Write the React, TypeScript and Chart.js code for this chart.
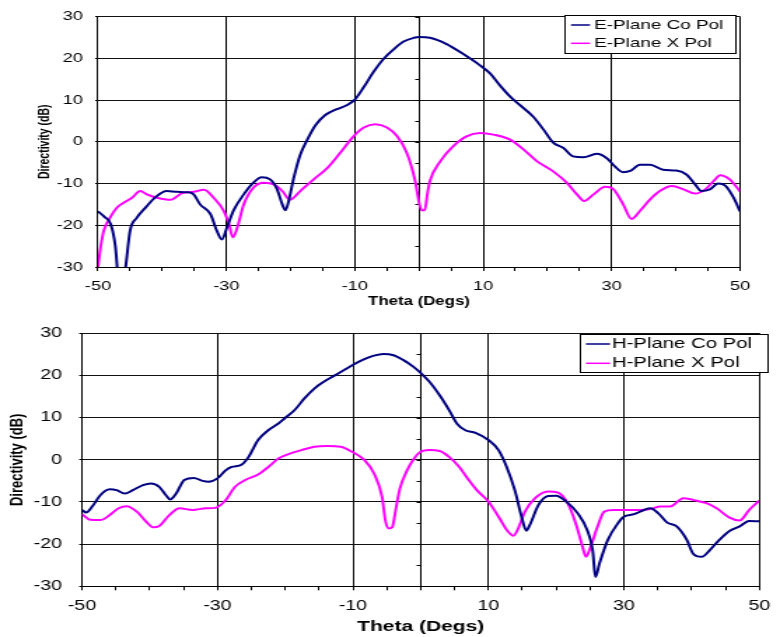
import React, { useEffect, useRef } from 'react';
import { Chart, registerables } from 'chart.js';

Chart.register(...registerables);

// ---------------- data ----------------
const eCoTheta = [-50, -49, -48, -47.3, -46.5, -45.7, -45, -44, -42.5, -41, -39.3, -37.7, -36.1, -35.1, -34.1, -32.5, -31.5, -30.7, -29.9, -28.9, -27.3, -25.8, -24.5, -23.2, -22.1, -21.3, -20.8, -20.3, -19.5, -18.5, -17.4, -16.1, -14.6, -12.8, -11.2, -10, -8.6, -7.1, -5.5, -3.9, -2.4, -0.8, 0, 1.7, 4.3, 6.9, 9.5, 11.1, 12.6, 14.2, 15.7, 17.8, 19.4, 20.9, 22.5, 24, 25.6, 27.7, 29.2, 30.5, 31.8, 32.9, 34.4, 36, 38, 40.1, 41.7, 43, 44, 45.3, 46.6, 47.7, 49, 50];
const eCoDir = [-16.7, -18, -19.8, -25, -38, -30, -21.3, -18.3, -15.6, -13.2, -11.8, -12, -12.1, -12.6, -15, -17.3, -21.3, -23.4, -20.5, -16.5, -12.6, -9.8, -8.5, -9, -11.4, -15, -16.4, -14.2, -8.6, -3.1, 0.5, 4, 6.4, 7.8, 8.8, 10.1, 13.1, 16.7, 19.9, 22.2, 24, 24.9, 25.1, 24.9, 23.4, 21, 18.3, 16.3, 13.5, 10.8, 8.8, 6, 2.9, -0.2, -1.5, -3.5, -3.7, -2.9, -3.9, -5.9, -7.3, -7, -5.5, -5.5, -6.7, -6.9, -7.9, -10.2, -11.8, -11.4, -10, -10.5, -13.4, -16.7];

const eXTheta = [-50, -49.6, -49.1, -48.1, -47, -46, -44.7, -43.4, -42.4, -40.8, -38.7, -36.9, -35.1, -33.5, -32, -30.4, -29.6, -29, -28.3, -27.3, -25.8, -24.2, -22.6, -21.3, -20.1, -18.5, -16.4, -14.3, -12.3, -10.2, -8.6, -6.8, -5, -3.4, -1.9, -0.6, 0, 0.4, 0.9, 1.3, 1.7, 3.3, 5.3, 7.4, 9.5, 11.6, 14.2, 16.3, 18.4, 20.9, 23, 24.6, 25.7, 27.2, 29, 30.3, 31.8, 33.1, 34.4, 36, 37.5, 39.4, 41.2, 43, 44.6, 45.9, 46.9, 48.4, 50];
const eXDir = [-30, -25.3, -21.3, -18.1, -15.7, -14.6, -13.4, -11.8, -12.6, -13.4, -13.9, -12.3, -12, -11.5, -13.4, -16.6, -19.7, -22.9, -20.5, -15, -11, -9.8, -10.2, -11.8, -13.9, -11.8, -9, -6.3, -2.7, 1.3, 3.4, 4.2, 3.4, 1.3, -2.7, -9.4, -14.5, -16.4, -16.4, -12.5, -9.4, -4.7, -1.1, 1.3, 2.1, 1.7, 0.5, -1.9, -4.7, -7.1, -9.8, -12.6, -14.2, -12.6, -10.8, -11.4, -15, -18.5, -16.6, -13.8, -11.8, -10.6, -11.4, -12.4, -11.4, -9.4, -8, -9, -11.9];

const hCoTheta = [-50, -49.4, -48.5, -47.3, -45.9, -44.9, -43.7, -42.5, -41, -39.8, -38.6, -37.6, -37, -36.1, -34.9, -33.5, -32.2, -31.3, -30, -28.8, -27.9, -26.4, -25.4, -24, -22.5, -21, -20.1, -18.6, -17.2, -15.7, -14.3, -12.8, -11.3, -9.9, -8.4, -6.9, -5.5, -4, -2.6, -1.1, 0, 1.3, 2.8, 4.2, 5.4, 6.6, 8.1, 10, 11.5, 12.7, 13.9, 14.9, 15.6, 16.1, 17.4, 18.8, 20, 21.5, 23.2, 24.6, 25.4, 25.8, 26.4, 27.6, 29.1, 30, 31.5, 33, 33.9, 35.1, 36.4, 37.8, 39.3, 40.2, 41.5, 42.7, 44.1, 45.6, 47.1, 48.5, 50];
const hCoDir = [-11.9, -12.5, -11.1, -8.4, -7, -7.2, -8, -7.2, -6, -5.6, -6.4, -8.4, -9.4, -8, -4.8, -4.3, -5, -5.2, -4.4, -2.5, -1.7, -1.1, 0.7, 4.7, 7, 8.6, 9.8, 11.8, 14.5, 16.9, 18.5, 19.9, 21.3, 22.6, 23.8, 24.7, 25.1, 24.8, 23.7, 22.1, 20.6, 18.5, 15.3, 11.8, 8.5, 7, 6.4, 4.7, 2.3, -1.7, -7.2, -13.5, -16.8, -15.5, -10.7, -8.6, -8.5, -9.9, -12.7, -16.7, -21.5, -27.8, -24.6, -19.1, -15.1, -13.5, -12.9, -11.9, -11.5, -12.7, -14.9, -15.8, -19, -22.2, -23, -21.4, -19, -16.9, -15.8, -14.5, -14.6];

const hXTheta = [-50, -48.8, -47.3, -45.9, -44.6, -43.4, -41.9, -40.5, -39.5, -38.6, -37.1, -35.6, -33.7, -31.7, -30.3, -28.8, -27.4, -25.9, -24, -22.5, -21, -19.6, -17.6, -15.7, -13.8, -11.8, -9.9, -8.4, -6.9, -5.7, -5.2, -4.7, -4.2, -3.7, -3.1, -2.1, -1.1, -0.2, 1.3, 2.8, 4.2, 5.7, 7.1, 8.3, 10, 11.5, 12.9, 13.7, 14.4, 15.4, 16.9, 18.8, 20.3, 21.7, 22.9, 23.9, 24.4, 25.1, 26.1, 27.1, 28.5, 30.5, 32.4, 33.9, 35.4, 36.8, 38.8, 40.2, 42.2, 43.7, 45.6, 47.1, 48.5, 50];
const hXDir = [-12.9, -14.2, -14.3, -13.1, -11.5, -11, -12.3, -14.7, -16, -15.7, -13.1, -11.5, -11.9, -11.5, -11.4, -9.6, -6.4, -4.8, -3.5, -1.7, 0.3, 1.3, 2.3, 3.1, 3.3, 3.1, 1.7, 0.1, -3.2, -8.8, -14.5, -16.3, -16, -12, -7, -2.8, 0, 1.7, 2.3, 2.1, 0.7, -1.7, -4.8, -7.2, -9.9, -13.5, -17, -18, -16.3, -12.3, -9.1, -7.5, -7.8, -10.3, -15.1, -20.6, -23, -20.6, -15.9, -12.3, -11.9, -11.9, -11.9, -11.7, -11.1, -11.1, -9.1, -9.5, -10.3, -11.5, -13.7, -14.4, -11.9, -9.7];

const xLabelValues = [-50, -30, -10, 10, 30, 50];
const topLabels = ['E-Plane Co Pol', 'E-Plane X Pol'];
const bottomLabels = ['H-Plane Co Pol', 'H-Plane X Pol'];
const xTitle = 'Theta (Degs)';
const yTitle = 'Directivity (dB)';

const CO_COLOR = '#000080';
const X_COLOR = '#FF00FF';

// ---------------- layout helpers ----------------
const BUF_W = 557;
const CSS_W = 780;
const SX = CSS_W / BUF_W; // horizontal stretch
const b = (cssX: number) => cssX / SX;
const FONT = '"Liberation Sans", Arial, Helvetica, sans-serif';

const toPoints = (xs: number[], ys: number[]) => xs.map((x, i) => ({ x, y: ys[i] }));

const midAxisPlugin = {
  id: 'midAxis',
  beforeDatasetsDraw(chart: any) {
    const { ctx, chartArea, scales } = chart;
    const x0 = Math.round(scales.x.getPixelForValue(0)) + 0.5;
    ctx.save();
    ctx.strokeStyle = '#000';
    ctx.lineWidth = 1;
    ctx.beginPath();
    ctx.moveTo(x0, chartArea.top);
    ctx.lineTo(x0, chartArea.bottom);
    for (let v = scales.y.min; v <= scales.y.max; v += 5) {
      const y = Math.round(scales.y.getPixelForValue(v)) + 0.5;
      ctx.moveTo(x0 - 3, y);
      ctx.lineTo(x0, y);
    }
    ctx.stroke();
    ctx.restore();
  },
};

const legendBoxPlugin = {
  id: 'legendBox',
  afterDatasetsDraw(chart: any, _args: any, o: any) {
    const ctx = chart.ctx;
    ctx.save();
    ctx.fillStyle = '#fff';
    ctx.fillRect(o.left, o.top, o.right - o.left, o.bottom - o.top);
    ctx.strokeStyle = '#000';
    ctx.lineWidth = 1;
    ctx.strokeRect(Math.round(o.left) + 0.5, Math.round(o.top) + 0.5, Math.round(o.right - o.left), Math.round(o.bottom - o.top));
    ctx.font = `${o.fontSize}px ${FONT}`;
    ctx.textBaseline = 'middle';
    ctx.textAlign = 'left';
    chart.data.datasets.forEach((ds: any, i: number) => {
      const y = o.rows[i];
      ctx.strokeStyle = ds.borderColor;
      ctx.lineWidth = 1.5;
      ctx.beginPath();
      ctx.moveTo(o.lineX0, y);
      ctx.lineTo(o.lineX1, y);
      ctx.stroke();
      ctx.fillStyle = '#000';
      ctx.fillText(ds.label, o.textX, y);
    });
    ctx.restore();
  },
};

interface Spec {
  height: number;
  plotTop: number;
  plotBottom: number;
  plotLeftCss: number;
  plotRightCss: number;
  tickFont: number;
  yTickPad: number;
  xTickPad: number;
  yTitleFont: number;
  yTitlePad: number;
  xTitleFont: number;
  xTitlePad: number;
  labels: string[];
  co: { x: number; y: number }[];
  xp: { x: number; y: number }[];
  legend: any;
}

function buildConfig(s: Spec): any {
  return {
    type: 'line',
    data: {
      datasets: [
        { label: s.labels[0], data: s.co, borderColor: CO_COLOR, borderWidth: 2, pointRadius: 0, cubicInterpolationMode: 'monotone', fill: false },
        { label: s.labels[1], data: s.xp, borderColor: X_COLOR, borderWidth: 2, pointRadius: 0, cubicInterpolationMode: 'monotone', fill: false },
      ],
    },
    options: {
      animation: false,
      responsive: false,
      devicePixelRatio: 1,
      events: [],
      layout: {
        padding: { left: 0, top: s.plotTop, right: BUF_W - b(s.plotRightCss), bottom: 0 },
      },
      scales: {
        x: {
          type: 'linear',
          min: -50,
          max: 50,
          afterFit: (sc: any) => { sc.height = s.height - s.plotBottom; },
          ticks: {
            stepSize: 5,
            autoSkip: false,
            maxRotation: 0,
            color: '#000',
            padding: s.xTickPad,
            font: { family: FONT, size: s.tickFont },
            callback: (v: number) => (xLabelValues.includes(v) ? String(v) : ''),
          },
          grid: {
            color: (c: any) => (c.tick && xLabelValues.includes(c.tick.value) ? '#000' : 'rgba(0,0,0,0)'),
            tickColor: '#000',
            tickLength: 4,
            lineWidth: 1,
          },
          border: { display: true, color: '#000' },
          title: {
            display: true,
            text: xTitle,
            color: '#000',
            font: { family: FONT, size: s.xTitleFont, weight: 'bold' },
            padding: { top: 0, bottom: s.xTitlePad },
          },
        },
        y: {
          min: -30,
          max: 30,
          afterFit: (sc: any) => { sc.width = b(s.plotLeftCss); },
          ticks: {
            stepSize: 10,
            color: '#000',
            padding: s.yTickPad,
            font: { family: FONT, size: s.tickFont },
          },
          grid: { color: '#111', tickColor: '#000', tickLength: 2, lineWidth: 1 },
          border: { display: true, color: '#000' },
          title: {
            display: true,
            text: yTitle,
            color: '#000',
            font: { family: FONT, size: s.yTitleFont, weight: 'bold' },
            padding: { top: s.yTitlePad, bottom: 0 },
          },
        },
      },
      plugins: {
        legend: { display: false },
        tooltip: { enabled: false },
        legendBox: s.legend,
      },
    },
    plugins: [midAxisPlugin, legendBoxPlugin],
  };
}

const topSpec: Spec = {
  height: 310,
  plotTop: 14,
  plotBottom: 267,
  plotLeftCss: 98,
  plotRightCss: 740,
  tickFont: 13,
  yTickPad: 8.7,
  xTickPad: 7.4,
  yTitleFont: 10.5,
  yTitlePad: b(45.5) - 6.3,
  xTitleFont: 12,
  xTitlePad: 0.8,
  labels: topLabels,
  co: toPoints(eCoTheta, eCoDir),
  xp: toPoints(eXTheta, eXDir),
  legend: {
    left: b(565), right: b(736), top: 15, bottom: 53,
    lineX0: b(571), lineX1: b(590), textX: b(594),
    rows: [25, 43.3], fontSize: 13.5,
  },
};

const bottomSpec: Spec = {
  height: 327,
  plotTop: 23.3,
  plotBottom: 276.3,
  plotLeftCss: 82,
  plotRightCss: 767,
  tickFont: 14,
  yTickPad: 12.3,
  xTickPad: 7,
  yTitleFont: 13,
  yTitlePad: b(16.7) - 7.8,
  xTitleFont: 15,
  xTitlePad: 1,
  labels: bottomLabels,
  co: toPoints(hCoTheta, hCoDir),
  xp: toPoints(hXTheta, hXDir),
  legend: {
    left: b(580), right: b(767), top: 24, bottom: 62,
    lineX0: b(586), lineX1: b(610), textX: b(612),
    rows: [34, 53.3], fontSize: 14.5,
  },
};

function StretchedChart({ spec }: { spec: Spec }) {
  const ref = useRef<HTMLCanvasElement | null>(null);
  useEffect(() => {
    if (!ref.current) return;
    const chart = new Chart(ref.current, buildConfig(spec));
    return () => chart.destroy();
  }, [spec]);
  return (
    <canvas
      ref={ref}
      width={BUF_W}
      height={spec.height}
      style={{ display: 'block', width: CSS_W + 'px', height: spec.height + 'px' }}
    />
  );
}

export default function App() {
  return (
    <div style={{ position: 'absolute', left: 0, top: 0, width: CSS_W, background: '#fff' }}>
      <StretchedChart spec={topSpec} />
      <StretchedChart spec={bottomSpec} />
    </div>
  );
}
